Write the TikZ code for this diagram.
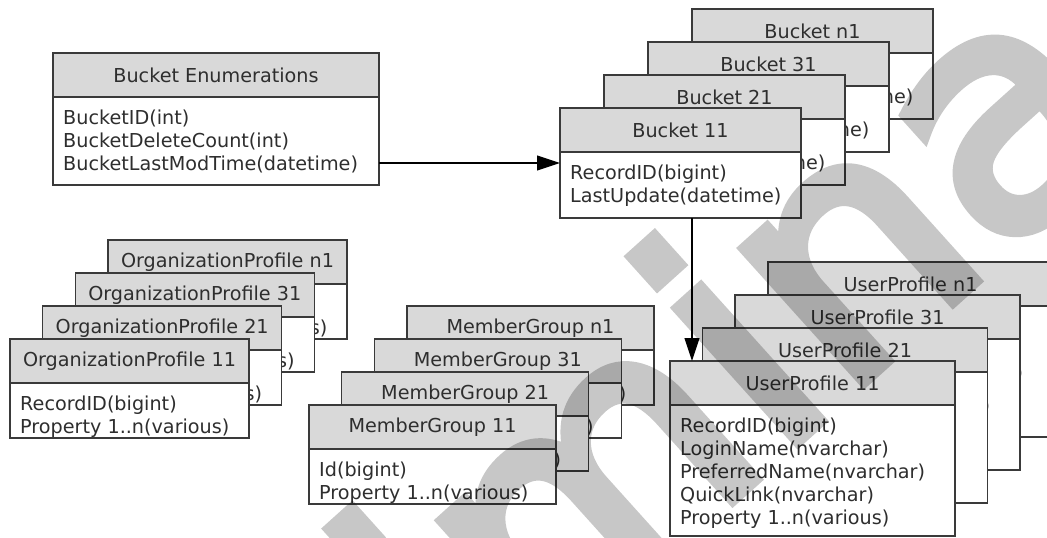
\documentclass[tikz,border=0pt]{standalone}
\usepackage{fontspec}
\setmainfont{DejaVu Sans}
\newfontfamily\wmfont[FakeBold=4]{DejaVu Sans}
\usetikzlibrary{arrows.meta}
\definecolor{hdrgray}{HTML}{D9D9D9}
\definecolor{linegray}{HTML}{3A3A3A}
\definecolor{txtgray}{HTML}{2E2E2E}
\tikzset{
  boxfont/.style={font=\fontsize{19.2}{23}\selectfont},
  hdr/.style={draw=linegray, line width=1.3pt, fill=hdrgray, inner sep=0pt, outer sep=0pt,
    anchor=north west, minimum height=44pt, text=txtgray, boxfont},
  bdy/.style={draw=linegray, line width=1.3pt, fill=white, inner sep=0pt, outer sep=0pt,
    anchor=north west},
  ln/.style={anchor=base west, inner sep=0pt, text=txtgray, boxfont},
  conn/.style={draw=black, line width=1.1pt, -{Triangle[length=23pt,width=15pt]}},
  wm/.style={inner sep=0pt, text=black,
    font=\wmfont\fontsize{325}{325}\selectfont}
}
% id, x, y, width, height, title, lines
\newcommand\umlbox[7]{%
  \node[bdy, minimum width=#4pt, minimum height=#5pt] (#1) at (#2,#3) {};
  \node[hdr, minimum width=#4pt] (#1h) at (#2,#3) {#6};
  \foreach \t [count=\k] in {#7} {%
    \node[ln] (#1l\k) at ([shift={(10,{27.5+23*(\k-1)})}]#1h.south west) {\t};}%
}
\begin{document}
\begin{tikzpicture}[x=1pt,y=-1pt]
\useasboundingbox (0,0) rectangle (1047,538);
\clip (0,0) rectangle (1047,538);
\fill[white] (0,0) rectangle (1047,538);

% Bucket Enumerations
\umlbox{be}{53}{53}{326}{132}{Bucket Enumerations}{BucketID(int),BucketDeleteCount(int),BucketLastModTime(datetime)}

% Buckets
\umlbox{bn1}{692}{9}{241}{110}{Bucket n1}{RecordID(bigint),LastUpdate(datetime)}
\umlbox{b31}{648}{42}{241}{110}{Bucket 31}{RecordID(bigint),LastUpdate(datetime)}
\umlbox{b21}{604}{75}{241}{110}{Bucket 21}{RecordID(bigint),LastUpdate(datetime)}
\umlbox{b11}{560}{108}{241}{110}{Bucket 11}{RecordID(bigint),LastUpdate(datetime)}

% Organization profiles
\umlbox{opn1}{108}{240}{239}{99}{OrganizationProfile n1}{RecordID(bigint),Property 1..n(various)}
\umlbox{op31}{75.3}{273}{239}{99}{OrganizationProfile 31}{RecordID(bigint),Property 1..n(various)}
\umlbox{op21}{42.7}{306}{239}{99}{OrganizationProfile 21}{RecordID(bigint),Property 1..n(various)}
\umlbox{op11}{10}{339}{239}{99}{OrganizationProfile 11}{RecordID(bigint),Property 1..n(various)}

% Member groups
\umlbox{mgn1}{407}{306}{247}{99}{MemberGroup n1}{Id(bigint),Property 1..n(various)}
\umlbox{mg31}{374.3}{339}{247}{99}{MemberGroup 31}{Id(bigint),Property 1..n(various)}
\umlbox{mg21}{341.7}{372}{247}{99}{MemberGroup 21}{Id(bigint),Property 1..n(various)}
\umlbox{mg11}{309}{405}{247}{99}{MemberGroup 11}{Id(bigint),Property 1..n(various)}

% User profiles
\umlbox{upn1}{768}{262}{285}{175}{UserProfile n1}{RecordID(bigint),LoginName(nvarchar),PreferredName(nvarchar),QuickLink(nvarchar),Property 1..n(various)}
\umlbox{up31}{735}{295}{285}{175}{UserProfile 31}{RecordID(bigint),LoginName(nvarchar),PreferredName(nvarchar),QuickLink(nvarchar),Property 1..n(various)}
\umlbox{up21}{702.5}{328}{285}{175}{UserProfile 21}{RecordID(bigint),LoginName(nvarchar),PreferredName(nvarchar),QuickLink(nvarchar),Property 1..n(various)}
\umlbox{up11}{670}{361}{285}{175}{UserProfile 11}{RecordID(bigint),LoginName(nvarchar),PreferredName(nvarchar),QuickLink(nvarchar),Property 1..n(various)}

% connectors
\draw[conn] (be.east |- b11.west) -- (b11.west);
\draw[conn] ([xshift=132pt]b11.south west) -- ([xshift=132pt]b11.south west |- up11.north);

% watermark
\begin{scope}[transparency group, opacity=0.22]
\node[wm, rotate=42] (wm) at (643.6,458.6) {Preliminary};
\end{scope}
\end{tikzpicture}
\end{document}
